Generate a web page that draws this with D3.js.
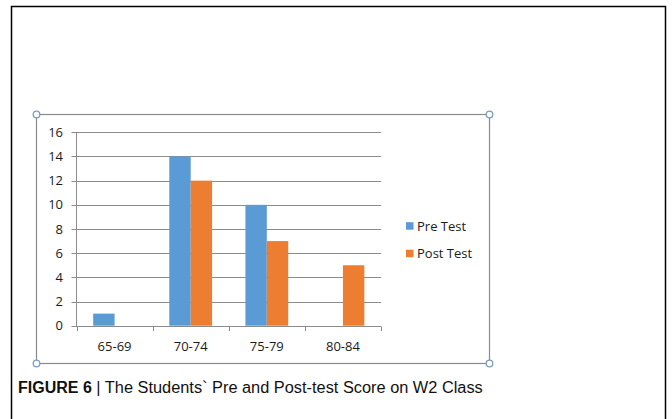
<!DOCTYPE html>
<html><head><meta charset="utf-8">
<script src="https://cdn.jsdelivr.net/npm/d3@7/dist/d3.min.js"></script>
<style>html,body{margin:0;padding:0;background:#fff;}svg{display:block;}</style>
</head><body>
<svg id="c" width="672" height="419"></svg>
<script>
const categories = ["65-69", "70-74", "75-79", "80-84"];
const seriesNames = ["Pre Test", "Post Test"];
const preTest = [1, 14, 10, 0];
const postTest = [0, 12, 7, 5];
const yTicks = [0, 2, 4, 6, 8, 10, 12, 14, 16];
const colors = ["#5b9bd5", "#ed7d31"];

const svg = d3.select("#c");
const font = "'Open Sans', 'DejaVu Sans', sans-serif";

// outer frame
svg.append("path").attr("d", "M11.5,420 V6.5 H665.5 V420")
  .attr("fill", "none").attr("stroke", "#000").attr("stroke-width", 1.5);

// chart box
const box = {x0: 36.5, y0: 114.5, x1: 489.5, y1: 363.5};
svg.append("rect").attr("x", box.x0).attr("y", box.y0)
  .attr("width", box.x1 - box.x0).attr("height", box.y1 - box.y0)
  .attr("fill", "none").attr("stroke", "#8a8a8a").attr("stroke-width", 1.2);
[[box.x0, box.y0], [box.x1, box.y0], [box.x0, box.y1], [box.x1, box.y1]].forEach(([cx, cy]) => {
  svg.append("circle").attr("cx", cx).attr("cy", cy).attr("r", 3.3)
    .attr("fill", "#fff").attr("stroke", "#7f9dbd").attr("stroke-width", 1.3);
});

const plot = {left: 76.5, right: 381, top: 132.3, bottom: 325.7};
const y = d3.scaleLinear().domain([0, 16]).range([plot.bottom, plot.top]);
const x0 = d3.scaleBand().domain(categories).range([plot.left, plot.right]).padding(0);
const bw = x0.bandwidth();
const x1 = d3.scaleBand().domain(seriesNames).range([bw * 0.219, bw * 0.781]).padding(0);

// gridlines
const g = svg.append("g");
g.selectAll("line.grid").data(yTicks).enter().append("line")
  .attr("x1", plot.left - 5).attr("x2", plot.right)
  .attr("y1", d => Math.round(y(d)) + 0.5).attr("y2", d => Math.round(y(d)) + 0.5)
  .attr("stroke", "#8c8c8c").attr("stroke-width", 1);

// y axis line
g.append("line").attr("x1", plot.left).attr("x2", plot.left)
  .attr("y1", Math.round(y(16)) + 0.5).attr("y2", Math.round(y(0)) + 0.5)
  .attr("stroke", "#8c8c8c");

// y labels
g.selectAll("text.yl").data(yTicks).enter().append("text")
  .attr("x", 63).attr("y", d => y(d)).attr("dy", "0.35em")
  .attr("text-anchor", "end").attr("font-family", font).attr("font-size", 13)
  .attr("fill", "#1a1a1a").text(d => d);

// bars
const data = categories.map((c, i) => ({cat: c, vals: [preTest[i], postTest[i]]}));
const groups = svg.append("g").selectAll("g").data(data).enter().append("g")
  .attr("transform", d => `translate(${x0(d.cat)},0)`);
groups.selectAll("rect").data(d => d.vals.map((v, j) => ({name: seriesNames[j], v, j})))
  .enter().append("rect")
  .attr("x", d => x1(d.name)).attr("width", x1.bandwidth())
  .attr("y", d => y(d.v)).attr("height", d => y(0) - y(d.v))
  .attr("fill", d => colors[d.j]);

// x ticks at category boundaries
const bounds = categories.map(c => x0(c)).concat([plot.right]);
g.selectAll("line.xt").data(bounds).enter().append("line")
  .attr("x1", d => Math.round(d) + 0.5).attr("x2", d => Math.round(d) + 0.5)
  .attr("y1", Math.round(y(0)) + 0.5).attr("y2", Math.round(y(0)) + 5)
  .attr("stroke", "#8c8c8c");

// x labels
svg.selectAll("text.xl").data(categories).enter().append("text")
  .attr("x", d => x0(d) + bw / 2).attr("y", 346).attr("dy", "0.35em")
  .attr("text-anchor", "middle").attr("font-family", font).attr("font-size", 13)
  .attr("fill", "#1a1a1a").text(d => d);

// legend
const lg = svg.append("g");
seriesNames.forEach((n, i) => {
  const cy = 226 + i * 27.5;
  lg.append("rect").attr("x", 406).attr("y", cy - 3.8).attr("width", 7.5).attr("height", 7.5)
    .attr("fill", colors[i]);
  lg.append("text").attr("x", 417).attr("y", cy).attr("dy", "0.35em")
    .attr("font-family", font).attr("font-size", 13).attr("fill", "#1a1a1a").text(n);
});

// caption
const cap = svg.append("text").attr("x", 18).attr("y", 393)
  .attr("font-family", "'Liberation Sans', Arial, sans-serif").attr("font-size", 16).attr("fill", "#111");
cap.append("tspan").attr("font-weight", "bold").text("FIGURE 6");
cap.append("tspan").attr("textLength", 391).attr("lengthAdjust", "spacingAndGlyphs")
  .text(" | The Students` Pre and Post-test Score on W2 Class");
</script>
</body></html>
